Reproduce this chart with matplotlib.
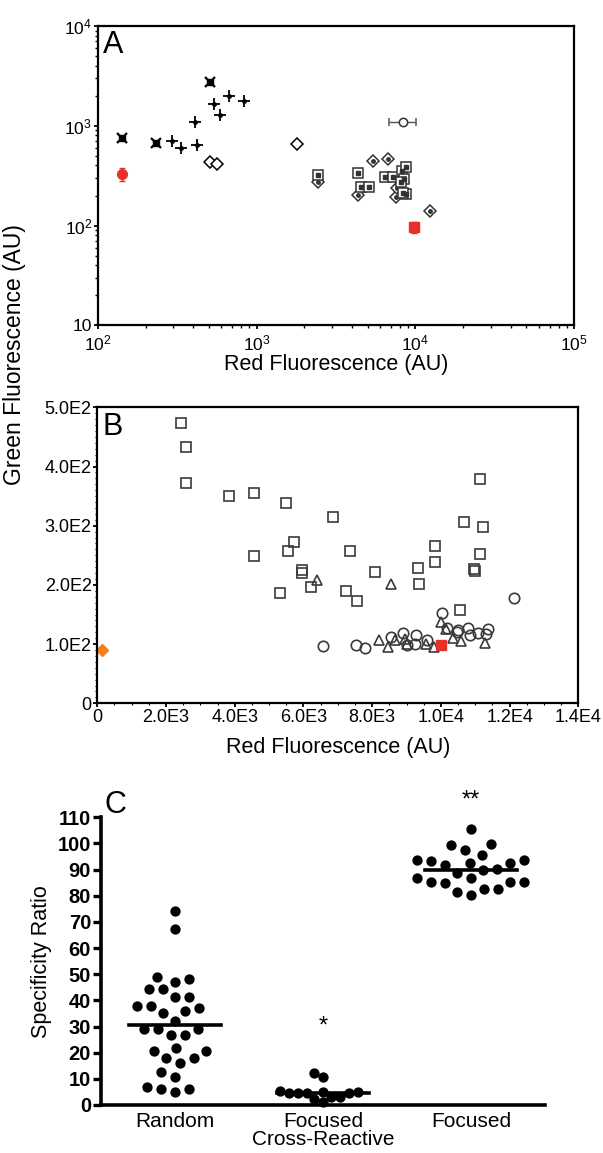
import numpy as np
import matplotlib
matplotlib.use('Agg')
import matplotlib.pyplot as plt
from matplotlib.ticker import LogLocator, MultipleLocator, NullFormatter

plt.rcParams['font.family'] = ['Liberation Sans', 'DejaVu Sans']
plt.rcParams['mathtext.fontset'] = 'custom'
plt.rcParams['mathtext.rm'] = 'Liberation Sans'

# ---------------- Panel A data (log-log) ----------------
a_red_circle_x = [143]
a_red_circle_y = [325]
a_red_circle_err = [[45], [50]]
a_red_square_x = [9840]
a_red_square_y = [96]
a_red_square_err = [[11], [12]]
a_bowtie_x = [142, 232, 506]
a_bowtie_y = [760, 673, 2770]
a_plus_x = [295, 335, 407, 419, 538, 586, 670, 832]
a_plus_y = [710, 595, 1081, 648, 1670, 1270, 2010, 1763]
a_diamond_x = [512, 563, 1803]
a_diamond_y = [438, 410, 664]
a_ring_x = [8380]
a_ring_y = [1082]
a_ring_xerr = [[1570], [1650]]
a_dsquare_x = [2445, 4330, 4520, 5130, 6430, 7250, 8180, 8700, 8500, 8090, 8700, 8300]
a_dsquare_y = [321, 338, 245, 245, 304, 304, 354, 383, 290, 275, 207, 210]
a_ddiamond_x = [2445, 4330, 5420, 6680, 7520, 7620, 12330]
a_ddiamond_y = [275, 202, 443, 464, 195, 239, 140]

# ---------------- Panel B data (linear) ----------------
b_square_x = [2450, 2570, 2570, 3830, 4570, 4570, 5500, 5560, 5730, 5970, 5970,
              6230, 5320, 6860, 7345, 7240, 7560, 8070, 9340, 9350, 9815, 9815,
              10545, 10660, 10960, 11000, 11140, 11150, 11240]
b_square_y = [474, 433, 372, 351, 356, 249, 339, 258, 272, 226, 220,
              196, 186, 315, 257, 190, 172, 222, 229, 201, 265, 238,
              157, 307, 227, 224, 252, 379, 298]
b_triangle_x = [6400, 8540, 8200, 8450, 8670, 8950, 9000, 9570, 9800, 10000,
                10150, 10360, 10600, 11290]
b_triangle_y = [208, 201, 107, 95, 107, 108, 100, 101, 95, 138,
                125, 111, 105, 102]
b_circle_x = [6570, 7540, 7800, 8550, 8900, 9000, 9250, 9290, 9600, 10020,
              10170, 10480, 10510, 10800, 10860, 11090, 11380, 11320, 12130]
b_circle_y = [96, 98, 93, 112, 118, 98, 100, 115, 107, 153,
              127, 121, 123, 127, 116, 118, 126, 117, 178]
b_orange_x = [135]
b_orange_y = [90]
b_red_x = [9995]
b_red_y = [99]
b_xticks = [0, 2000, 4000, 6000, 8000, 10000, 12000, 14000]
b_xticklabels = ['0', '2.0E3', '4.0E3', '6.0E3', '8.0E3', '1.0E4', '1.2E4', '1.4E4']
b_yticks = [0, 100, 200, 300, 400, 500]
b_yticklabels = ['0', '1.0E2', '2.0E2', '3.0E2', '4.0E2', '5.0E2']

# ---------------- Panel C data ----------------
c_categories = ['Random', 'Focused\nCross-Reactive', 'Focused']
c_random = [74.2, 67.2, 48.1, 49.1, 44.2, 44.2, 47.2, 41.2, 41.2, 38.0, 35.9,
            37.0, 38.0, 35.1, 32.1, 26.8, 28.9, 28.9, 28.9, 26.8, 21.7, 20.8,
            20.8, 17.8, 17.8, 15.9, 12.7, 10.8, 6.0, 5.1, 6.0, 6.8]
c_cross = [12.1, 10.8, 4.5, 5.1, 2.2, 4.5, 5.5, 1.3, 4.5, 3.2, 5.1, 4.5, 2.9]
c_focused = [105.4, 99.4, 99.8, 97.5, 95.6, 93.7, 93.7, 92.4, 93.4, 92.4, 91.8,
             90.1, 88.6, 86.7, 84.8, 86.7, 85.4, 85.4, 85.4, 82.5, 80.3, 81.6,
             82.5, 89.9]
c_medians = [30.6, 4.7, 89.7]
c_stars = ['', '*', '**']

W, H = 603, 1153
fig = plt.figure(figsize=(W / 100, H / 100), dpi=100)


def frac(l, t, r, b):
    return [l / W, 1 - b / H, (r - l) / W, (b - t) / H]


# ---------------- Panel A ----------------
axA = fig.add_axes(frac(97.7, 26, 574.3, 325.3))
axA.set_xscale('log')
axA.set_yscale('log')
axA.set_xlim(1e2, 1e5)
axA.set_ylim(10, 1e4)

axA.errorbar(a_red_circle_x, a_red_circle_y, yerr=a_red_circle_err, fmt='o',
             color='#e8302a', ms=7, ecolor='#e8302a', elinewidth=1, capsize=2)
axA.errorbar(a_red_square_x, a_red_square_y, yerr=a_red_square_err, fmt='s',
             color='#e8302a', ms=7, ecolor='#e8302a', elinewidth=1, capsize=2)
axA.plot(a_bowtie_x, a_bowtie_y, 's', color='black', ms=4.5, ls='none')
axA.plot(a_bowtie_x, a_bowtie_y, 'x', color='black', ms=7, mew=1.6, ls='none')
axA.plot(a_plus_x, a_plus_y, '+', color='black', ms=8, mew=1.3, ls='none')
axA.plot(a_plus_x, a_plus_y, 'o', color='black', ms=2.5, ls='none')
axA.plot(a_diamond_x, a_diamond_y, 'D', mfc='white', mec='black', ms=6, mew=1.1, ls='none')
axA.errorbar(a_ring_x, a_ring_y, xerr=a_ring_xerr, fmt='o', mfc='white', mec='#333333',
             ms=6, mew=1.1, ecolor='#555555', elinewidth=1, capsize=3)
axA.plot(a_ring_x, a_ring_y, 'D', color='#333333', ms=2.5, ls='none')
axA.plot(a_ddiamond_x, a_ddiamond_y, 'D', mfc='white', mec='#333333', ms=6, mew=1.1, ls='none')
axA.plot(a_ddiamond_x, a_ddiamond_y, 'o', color='#333333', ms=2.5, ls='none')
axA.plot(a_dsquare_x, a_dsquare_y, 's', mfc='white', mec='#333333', ms=7, mew=1.1, ls='none')
axA.plot(a_dsquare_x, a_dsquare_y, 's', color='#333333', ms=2.3, ls='none')

axA.set_xticks([1e2, 1e3, 1e4, 1e5])
axA.set_xticklabels([r'$\mathregular{10^2}$', r'$\mathregular{10^3}$',
                     r'$\mathregular{10^4}$', r'$\mathregular{10^5}$'])
axA.set_yticks([10, 1e2, 1e3, 1e4])
axA.set_yticklabels(['10', r'$\mathregular{10^2}$', r'$\mathregular{10^3}$',
                     r'$\mathregular{10^4}$'])
axA.xaxis.set_minor_locator(LogLocator(base=10, subs=np.arange(2, 10)))
axA.yaxis.set_minor_locator(LogLocator(base=10, subs=np.arange(2, 10)))
axA.xaxis.set_minor_formatter(NullFormatter())
axA.yaxis.set_minor_formatter(NullFormatter())
axA.tick_params(which='major', direction='out', length=3, width=1.3, labelsize=12.5, pad=1)
axA.tick_params(axis='x', which='major', pad=3)
axA.tick_params(which='minor', direction='out', length=2, width=1)
for s in axA.spines.values():
    s.set_linewidth(1.6)
axA.set_xlabel('Red Fluorescence (AU)', fontsize=15.5, labelpad=0)
axA.text(0.01, 0.985, 'A', transform=axA.transAxes, fontsize=22, va='top', ha='left')

# ---------------- Panel B ----------------
axB = fig.add_axes(frac(97.3, 407.3, 578.3, 703.3))
axB.set_xlim(0, 14000)
axB.set_ylim(0, 500)
axB.plot(b_square_x, b_square_y, 's', mfc='none', mec='#3a3a3a', ms=7, mew=1.2, ls='none')
axB.plot(b_triangle_x, b_triangle_y, '^', mfc='none', mec='#3a3a3a', ms=7.5, mew=1.2, ls='none')
axB.plot(b_circle_x, b_circle_y, 'o', mfc='none', mec='#3a3a3a', ms=7.5, mew=1.2, ls='none')
axB.plot(b_orange_x, b_orange_y, 'D', color='#f07f1e', ms=6, ls='none', clip_on=False)
axB.plot(b_red_x, b_red_y, 's', color='#e8302a', ms=7.5, ls='none')
axB.set_xticks(b_xticks)
axB.set_xticklabels(b_xticklabels)
axB.set_yticks(b_yticks)
axB.set_yticklabels(b_yticklabels)
axB.xaxis.set_minor_locator(MultipleLocator(500))
axB.yaxis.set_minor_locator(MultipleLocator(10))
axB.tick_params(which='major', direction='out', length=3, width=1.3, labelsize=13, pad=1)
axB.tick_params(which='minor', direction='out', length=1.5, width=0.8)
for s in axB.spines.values():
    s.set_linewidth(1.6)
axB.set_xlabel('Red Fluorescence (AU)', fontsize=15.5, labelpad=8)
axB.text(0.01, 0.985, 'B', transform=axB.transAxes, fontsize=22, va='top', ha='left')

fig.text(15 / W, 1 - 355 / H, 'Green Fluorescence (AU)', rotation=90,
         fontsize=16.5, ha='center', va='center')

# ---------------- Panel C ----------------
axC = fig.add_axes(frac(100.8, 817.3, 545, 1105))
axC.set_xlim(-0.5, 2.5)
axC.set_ylim(0, 110)


def swarm(ax, center, values, gap):
    pts = ax.transData.transform(np.column_stack([np.full(len(values), center), values]))
    placed = []
    xs = np.zeros(len(values))
    for i in np.argsort(values):
        cx, cy = pts[i]
        found = None
        for step in range(0, 300):
            for dx in ([0] if step == 0 else [-step, step]):
                if all((cx + dx - px) ** 2 + (cy - py) ** 2 >= gap ** 2 for px, py in placed):
                    found = dx
                    break
            if found is not None:
                break
        placed.append((cx + found, cy))
        xs[i] = cx + found
    return ax.transData.inverted().transform(np.column_stack([xs, pts[:, 1]]))[:, 0]


gaps = [14, 9, 14]
for k, vals in enumerate([c_random, c_cross, c_focused]):
    xs = swarm(axC, k, vals, gaps[k])
    axC.scatter(xs, vals, s=55, color='black', zorder=3, clip_on=False, linewidths=0)
    axC.plot([k - 0.31, k + 0.31], [c_medians[k], c_medians[k]], color='black', lw=2.6, zorder=4)
    if c_stars[k]:
        top = max(vals) + (18 if k == 1 else 11)
        axC.text(k, top, c_stars[k], ha='center', va='center', fontsize=17)

axC.set_xticks(range(3))
axC.set_xticklabels(c_categories, fontsize=15, linespacing=0.95)
axC.set_yticks(np.arange(0, 111, 10))
for lab in axC.get_yticklabels():
    lab.set_fontweight('bold')
axC.tick_params(axis='y', direction='out', length=6, width=2.4, labelsize=14.5, pad=1)
axC.tick_params(axis='x', length=0, pad=5)
axC.spines['top'].set_visible(False)
axC.spines['right'].set_visible(False)
axC.spines['left'].set_linewidth(2.6)
axC.spines['bottom'].set_linewidth(2.6)
axC.set_ylabel('Specificity Ratio', fontsize=15.5, labelpad=4)
fig.text(115 / W, 1 - 805 / H, 'C', fontsize=22, ha='center', va='center')

fig.savefig('out.png', dpi=100)
